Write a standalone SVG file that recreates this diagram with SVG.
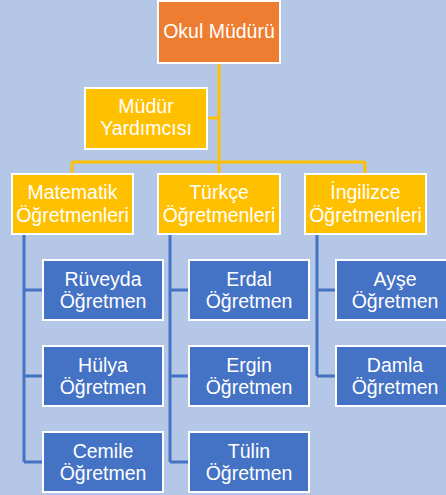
<svg xmlns="http://www.w3.org/2000/svg" width="446" height="495" viewBox="0 0 446 495">
  <style>
    .box { stroke: #FFFFFF; stroke-width: 2; }
    .head { fill: #ED7D31; }
    .dept { fill: #FFC000; }
    .staff { fill: #4472C4; }
    .lbl { font-family: "Liberation Sans", "Open Sans", sans-serif; font-size: 19.5px; fill: #FFFFFF; text-anchor: middle; }
    .yline { fill: none; stroke: #FFC000; stroke-width: 3; }
    .bline { fill: none; stroke: #4472C4; stroke-width: 3; }
  </style>

  <!-- page background -->
  <rect x="0" y="0" width="446" height="495" fill="#B4C7E7"/>

  <!-- connectors -->
  <g id="connectors">
    <!-- principal to deputy and departments -->
    <path class="yline" d="M219 64 V174 M207 118 H219 M72 162 H365 M72 162 V174 M365 162 V174"/>
    <!-- department to teacher trees -->
    <path class="bline" d="M24 235 V462 M24 290 H43 M24 376 H43 M24 462 H43"/>
    <path class="bline" d="M170 235 V462 M170 290 H189 M170 376 H189 M170 462 H189"/>
    <path class="bline" d="M317 235 V376 M317 290 H336 M317 376 H336"/>
  </g>

  <g id="okul-muduru">
    <rect class="box head" x="158" y="1" width="122" height="62"/>
    <text class="lbl" x="219" y="38">Okul Müdürü</text>
  </g>

  <g id="mudur-yardimcisi">
    <rect class="box dept" x="85" y="88" width="122" height="61"/>
    <text class="lbl" x="146" y="113">Müdür</text>
    <text class="lbl" x="146" y="135">Yardımcısı</text>
  </g>

  <g id="matematik">
    <rect class="box dept" x="12" y="174" width="121" height="60"/>
    <text class="lbl" x="72.5" y="199">Matematik</text>
    <text class="lbl" x="72.5" y="222">Öğretmenleri</text>
  </g>

  <g id="turkce">
    <rect class="box dept" x="158" y="174" width="122" height="60"/>
    <text class="lbl" x="219" y="199">Türkçe</text>
    <text class="lbl" x="219" y="222">Öğretmenleri</text>
  </g>

  <g id="ingilizce">
    <rect class="box dept" x="305" y="174" width="121" height="60"/>
    <text class="lbl" x="365.5" y="199">İngilizce</text>
    <text class="lbl" x="365.5" y="222">Öğretmenleri</text>
  </g>

  <g id="ruveyda">
    <rect class="box staff" x="43" y="260" width="120" height="60"/>
    <text class="lbl" x="103" y="286">Rüveyda</text>
    <text class="lbl" x="103" y="308">Öğretmen</text>
  </g>

  <g id="hulya">
    <rect class="box staff" x="43" y="346" width="120" height="60"/>
    <text class="lbl" x="103" y="372">Hülya</text>
    <text class="lbl" x="103" y="394">Öğretmen</text>
  </g>

  <g id="cemile">
    <rect class="box staff" x="43" y="432" width="120" height="60"/>
    <text class="lbl" x="103" y="458">Cemile</text>
    <text class="lbl" x="103" y="480">Öğretmen</text>
  </g>

  <g id="erdal">
    <rect class="box staff" x="189" y="260" width="120" height="60"/>
    <text class="lbl" x="249" y="286">Erdal</text>
    <text class="lbl" x="249" y="308">Öğretmen</text>
  </g>

  <g id="ergin">
    <rect class="box staff" x="189" y="346" width="120" height="60"/>
    <text class="lbl" x="249" y="372">Ergin</text>
    <text class="lbl" x="249" y="394">Öğretmen</text>
  </g>

  <g id="tulin">
    <rect class="box staff" x="189" y="432" width="120" height="60"/>
    <text class="lbl" x="249" y="458">Tülin</text>
    <text class="lbl" x="249" y="480">Öğretmen</text>
  </g>

  <g id="ayse">
    <rect class="box staff" x="336" y="260" width="120" height="60"/>
    <text class="lbl" x="395" y="286">Ayşe</text>
    <text class="lbl" x="395" y="308">Öğretmen</text>
  </g>

  <g id="damla">
    <rect class="box staff" x="336" y="346" width="120" height="60"/>
    <text class="lbl" x="395" y="372">Damla</text>
    <text class="lbl" x="395" y="394">Öğretmen</text>
  </g>
</svg>
